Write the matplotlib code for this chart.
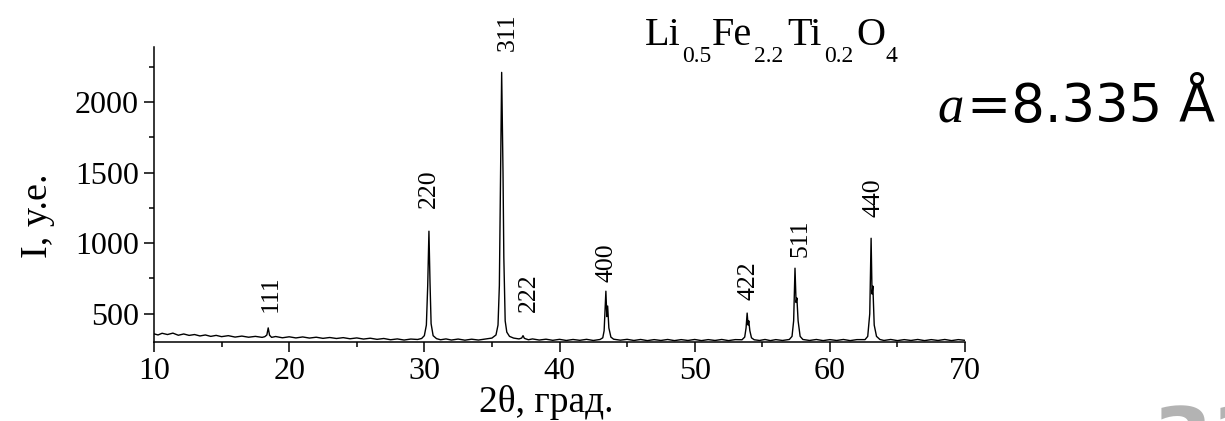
import numpy as np
import matplotlib
matplotlib.use("Agg")
import matplotlib.pyplot as plt
from matplotlib.ticker import MultipleLocator

plt.rcParams.update({
    "font.family": ["Liberation Serif", "DejaVu Serif"],
    "axes.linewidth": 1.1,
})

# XRD trace, 2θ (deg) vs intensity (arb. units): background plus peak profiles
two_theta = [
    10.0, 10.3, 10.6, 11.0, 11.4, 11.8, 12.2, 12.6, 13.0, 13.4, 13.8, 14.2,
    14.6, 15.0, 15.5, 16.0, 16.5, 17.0, 17.5, 18.0, 18.2, 18.35, 18.45, 18.55,
    18.7, 19.0, 19.5, 20.0, 20.5, 21.0, 21.5, 22.0, 22.5, 23.0, 23.5, 24.0,
    24.5, 25.0, 25.5, 26.0, 26.5, 27.0, 27.5, 28.0, 28.5, 29.0, 29.5, 29.8,
    30.0, 30.15, 30.25, 30.34, 30.42, 30.5, 30.65, 30.9, 31.2, 31.6, 32.0, 32.5,
    33.0, 33.5, 34.0, 34.5, 35.0, 35.3, 35.45, 35.55, 35.65, 35.72, 35.78, 35.82,
    35.88, 35.98, 36.1, 36.3, 36.6, 37.0, 37.2, 37.3, 37.4, 37.7, 38.0, 38.5,
    39.0, 39.5, 40.0, 40.5, 41.0, 41.5, 42.0, 42.5, 43.0, 43.2, 43.3, 43.43,
    43.5, 43.56, 43.65, 43.8, 44.0, 44.5, 45.0, 45.5, 46.0, 46.5, 47.0, 47.5,
    48.0, 48.5, 49.0, 49.5, 50.0, 50.5, 51.0, 51.5, 52.0, 52.5, 53.0, 53.5,
    53.7, 53.8, 53.88, 53.95, 54.0, 54.08, 54.2, 54.4, 54.8, 55.2, 55.6, 56.0,
    56.5, 57.0, 57.2, 57.32, 57.42, 57.5, 57.56, 57.65, 57.8, 58.0, 58.5, 59.0,
    59.5, 60.0, 60.5, 61.0, 61.5, 62.0, 62.6, 62.8, 62.95, 63.05, 63.12, 63.18,
    63.28, 63.45, 63.7, 64.0, 64.5, 65.0, 65.5, 66.0, 66.5, 67.0, 67.5, 68.0,
    68.5, 69.0, 69.5, 70.0,
]
intensity = [
    358, 350, 362, 353, 363, 348, 357, 347, 353, 343, 350, 340,
    347, 338, 345, 335, 342, 334, 340, 333, 338, 350, 400, 348,
    333, 339, 330, 337, 329, 336, 328, 334, 326, 332, 325, 331,
    323, 329, 321, 327, 319, 325, 316, 322, 314, 321, 318, 325,
    345, 420, 700, 1085, 720, 430, 345, 324, 316, 322, 314, 321,
    313, 320, 314, 321, 328, 350, 420, 700, 1600, 2210, 1750, 1500,
    900, 450, 370, 340, 328, 322, 328, 345, 326, 316, 322, 314,
    320, 312, 319, 311, 318, 312, 319, 311, 318, 330, 380, 660,
    480, 555, 400, 335, 320, 313, 319, 311, 318, 310, 317, 311,
    318, 310, 317, 311, 318, 310, 317, 311, 318, 310, 317, 316,
    335, 400, 505, 420, 450, 380, 330, 316, 311, 318, 310, 317,
    311, 318, 340, 450, 823, 580, 612, 450, 340, 318, 311, 318,
    310, 317, 311, 318, 310, 317, 317, 340, 500, 1035, 640, 696,
    420, 340, 318, 311, 318, 310, 317, 311, 318, 310, 317, 311,
    318, 310, 317, 312,
]

# Miller indices with label anchor (2θ, I)
hkl = ["111", "220", "311", "222", "400", "422", "511", "440"]
hkl_x = [18.65, 30.34, 36.2, 37.7, 43.5, 53.95, 57.8, 63.25]
hkl_y = [512, 1248, 2365, 512, 724, 597, 901, 1184]

fig = plt.figure(figsize=(12.25, 4.21), dpi=100)
ax = fig.add_axes([0.1257, 0.1876, 0.6621, 0.7008])

ax.plot(two_theta, intensity, color="black", lw=1.0)

for lab, x, y in zip(hkl, hkl_x, hkl_y):
    ax.text(x, y, lab, rotation=90, ha="center", va="bottom", fontsize=18.5)

ax.set_xlim(10, 70)
ax.set_ylim(300, 2390)
ax.set_yticks([500, 1000, 1500, 2000])
ax.xaxis.set_major_locator(MultipleLocator(10))
ax.xaxis.set_minor_locator(MultipleLocator(5))
ax.yaxis.set_minor_locator(MultipleLocator(250))
ax.spines[["top", "right"]].set_visible(False)
ax.tick_params(which="major", length=7, width=1.1, labelsize=23, pad=4)
ax.tick_params(which="minor", length=3.5, width=1.1)

fig.text(0.031, 0.487, "I, y.e.", rotation=90, ha="center", va="center",
         fontsize=27.5)
fig.text(0.4457, 0.021, "2θ, град.", ha="center", va="baseline", fontsize=27)

# composition written piece by piece, subscripts dropped well below the line
formula = [("Li", 645, False), ("0.5", 682, True), ("Fe", 712, False),
           ("2.2", 754, True), ("Ti", 787, False), ("0.2", 824, True),
           ("O", 856, False), ("4", 886, True)]
for piece, px, is_sub in formula:
    fig.text(px / 1225, 0.8527 if is_sub else 0.8931, piece, ha="left",
             va="baseline", fontsize=17 if is_sub else 29)

fig.text(0.787, 0.71, "a", ha="right", va="baseline", fontsize=38,
         style="italic")
fig.text(0.789, 0.71, "=8.335 Å", ha="left", va="baseline", fontsize=38,
         family="DejaVu Sans")

fig.text(0.941, -0.114, "33", ha="left", va="baseline", fontsize=62,
         family="DejaVu Sans", fontweight="bold", color="#b3b3b3")

fig.savefig("out.png", dpi=100, facecolor="white")
